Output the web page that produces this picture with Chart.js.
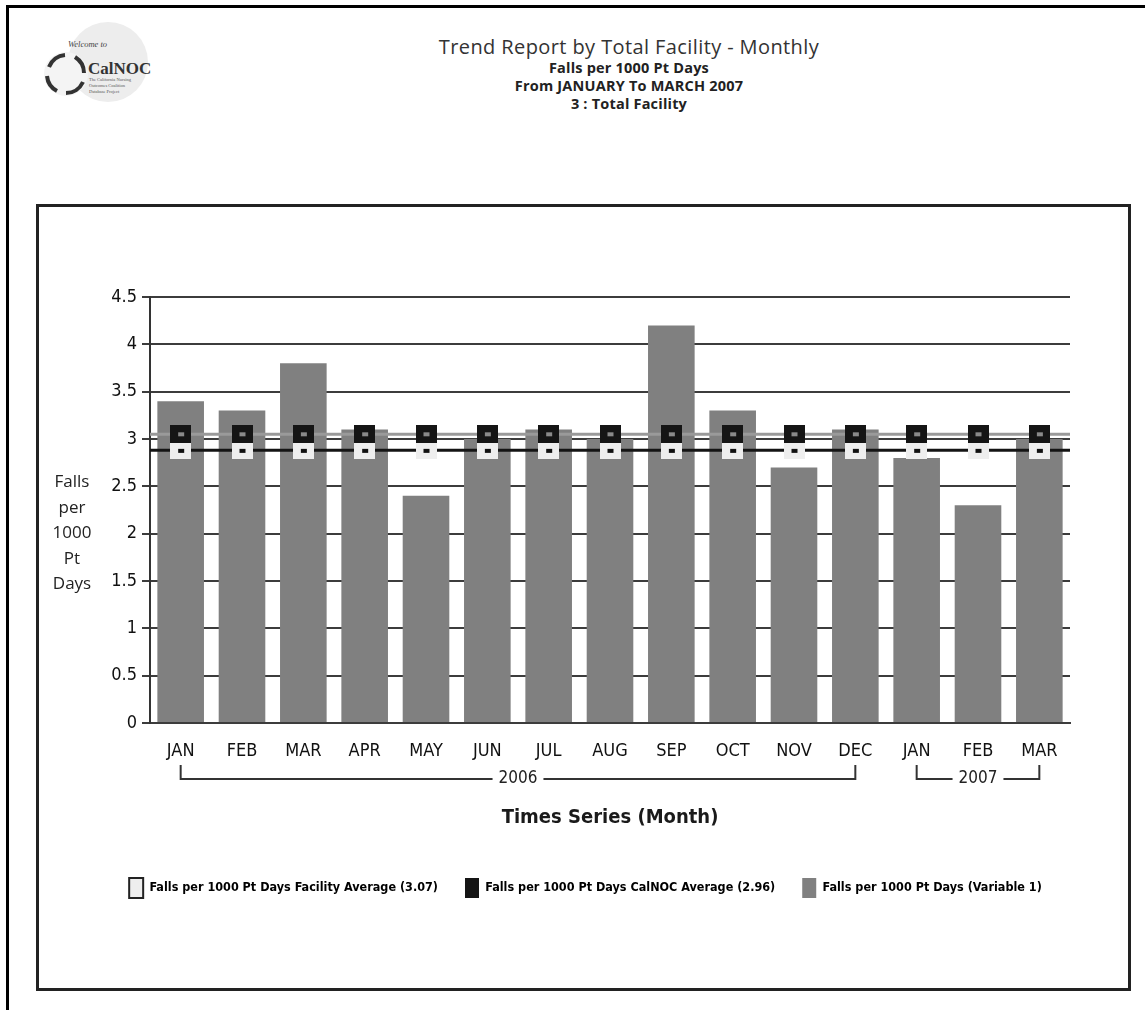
<!DOCTYPE html>
<html><head><meta charset="utf-8">
<script src="https://cdn.jsdelivr.net/npm/chart.js@4.4.0/dist/chart.umd.min.js"></script>
<style>
html,body{margin:0;padding:0;background:#fff;}
body{width:1145px;height:1010px;position:relative;overflow:hidden;font-family:"Open Sans",sans-serif;color:#222;}
#outer{position:absolute;left:6px;top:5px;width:1200px;height:1100px;border-left:3px solid #000;border-top:3px solid #000;}
#inner{position:absolute;left:36px;top:204px;width:1089px;height:781px;border:3px solid #222;}
#cv{position:absolute;left:39px;top:207px;}
#logo{position:absolute;left:38px;top:22px;}
#hdr{position:absolute;left:379px;top:34px;width:500px;text-align:center;}
#hdr .t1{font-size:20px;line-height:25px;color:#333;letter-spacing:0.4px;}
#hdr .t2{font-size:14.5px;font-weight:bold;line-height:18px;color:#222;letter-spacing:0.2px;}
#ytitle{position:absolute;left:44px;top:468px;width:56px;text-align:center;font-size:17px;line-height:25.5px;color:#222;}
</style></head>
<body>
<div id="outer"></div>
<svg id="logo" width="135" height="80" viewBox="0 0 135 80">
  <circle cx="70" cy="40" r="40" fill="#ededed"/>
  <circle cx="28" cy="52" r="22" fill="#f4f4f4"/>
  <g fill="none" stroke="#333" stroke-width="4">
    <path d="M11 45 A19 19 0 0 1 27 33"/>
    <path d="M37 35 A19 19 0 0 1 46 51"/>
    <path d="M45 60 A19 19 0 0 1 28 71"/>
    <path d="M19 69 A19 19 0 0 1 9 54"/>
  </g>
  <text x="30" y="25" font-family="Liberation Serif,serif" font-style="italic" font-size="8.5" fill="#444">Welcome to</text>
  <text x="50" y="52" font-family="Liberation Serif,serif" font-weight="bold" font-size="17" fill="#333">CalNOC</text>
  <text x="51" y="59" font-family="Liberation Serif,serif" font-size="4.5" fill="#555">The California Nursing</text>
  <text x="51" y="65" font-family="Liberation Serif,serif" font-size="4.5" fill="#555">Outcomes Coalition</text>
  <text x="51" y="71" font-family="Liberation Serif,serif" font-size="4.5" fill="#555">Database Project</text>
</svg>
<div id="hdr">
  <div class="t1">Trend Report by Total Facility - Monthly</div>
  <div class="t2">Falls per 1000 Pt Days</div>
  <div class="t2">From JANUARY To MARCH 2007</div>
  <div class="t2">3 : Total Facility</div>
</div>
<div id="inner"></div>
<canvas id="cv" width="1089" height="781"></canvas>
<div id="ytitle">Falls<br>per<br>1000<br>Pt<br>Days</div>
<script>
// ---- data ----
const months = ['JAN','FEB','MAR','APR','MAY','JUN','JUL','AUG','SEP','OCT','NOV','DEC','JAN','FEB','MAR'];
const fallsRate = [3.4, 3.3, 3.8, 3.1, 2.4, 3.0, 3.1, 3.0, 4.2, 3.3, 2.7, 3.1, 2.8, 2.3, 3.0];
const facilityAvg = [2.88, 2.88, 2.88, 2.88, 2.88, 2.88, 2.88, 2.88, 2.88, 2.88, 2.88, 2.88, 2.88, 2.88, 2.88];
const calnocAvg = [3.05, 3.05, 3.05, 3.05, 3.05, 3.05, 3.05, 3.05, 3.05, 3.05, 3.05, 3.05, 3.05, 3.05, 3.05];
const yMin = 0, yMax = 4.5, yStep = 0.5;
const yearGroups = [
  {label: '2006', from: 0, to: 11},
  {label: '2007', from: 12, to: 14}
];
const legendTexts = [
  'Falls per 1000 Pt Days Facility Average (3.07)',
  'Falls per 1000 Pt Days CalNOC Average (2.96)',
  'Falls per 1000 Pt Days (Variable 1)'
];
const xTitle = 'Times Series (Month)';

// ---- styles ----
const NARROW = '"Liberation Sans Narrow","DejaVu Sans Condensed",sans-serif';
function makeMarker(w, h, bg, inner) {
  const c = document.createElement('canvas');
  c.width = w; c.height = h;
  const g = c.getContext('2d');
  g.fillStyle = bg; g.fillRect(0, 0, w, h);
  g.fillStyle = inner; g.fillRect(Math.round(w / 2 - 3), Math.round(h / 2 - 2), 6, 4);
  return c;
}
const whiteMarker = makeMarker(21, 17, '#eeeeee', '#111111');
const blackMarker = makeMarker(21, 18, '#151515', '#8a8a8a');

const avgLines = {
  id: 'avgLines',
  afterDatasetDraw(chart, args) {
    if (args.index !== 0) return;
    const {ctx, chartArea, scales} = chart;
    chart.data.datasets.forEach(ds => {
      if (!ds.avgLineColor) return;
      const y = scales.y.getPixelForValue(ds.data[0]);
      ctx.save();
      ctx.strokeStyle = ds.avgLineColor;
      ctx.lineWidth = 3;
      ctx.beginPath();
      ctx.moveTo(chartArea.left, y);
      ctx.lineTo(chartArea.right, y);
      ctx.stroke();
      ctx.restore();
    });
  }
};

const yearBrackets = {
  id: 'yearBrackets',
  afterDraw(chart) {
    const {ctx, chartArea, scales} = chart;
    const yLine = chartArea.bottom + 56;
    ctx.save();
    ctx.strokeStyle = '#333';
    ctx.lineWidth = 2;
    ctx.fillStyle = '#222';
    ctx.font = '17px ' + NARROW;
    ctx.textAlign = 'center';
    ctx.textBaseline = 'middle';
    yearGroups.forEach(g => {
      const x1 = scales.x.getPixelForValue(g.from);
      const x2 = scales.x.getPixelForValue(g.to);
      const xm = (x1 + x2) / 2;
      const tw = ctx.measureText(g.label).width / 2 + 6;
      ctx.beginPath();
      ctx.moveTo(x1, yLine - 14); ctx.lineTo(x1, yLine); ctx.lineTo(xm - tw, yLine);
      ctx.moveTo(xm + tw, yLine); ctx.lineTo(x2, yLine); ctx.lineTo(x2, yLine - 14);
      ctx.stroke();
      ctx.fillText(g.label, xm, yLine);
    });
    ctx.restore();
  }
};

new Chart(document.getElementById('cv'), {
  data: {
    labels: months,
    datasets: [
      {type: 'bar', label: legendTexts[2], data: fallsRate, backgroundColor: '#808080',
       barPercentage: 0.76, categoryPercentage: 1.0, order: 3},
      {type: 'line', label: legendTexts[0], data: facilityAvg, showLine: false,
       pointStyle: whiteMarker, avgLineColor: '#141414', order: 2},
      {type: 'line', label: legendTexts[1], data: calnocAvg, showLine: false,
       pointStyle: blackMarker, avgLineColor: '#9a9a9a', order: 1}
    ]
  },
  options: {
    responsive: false,
    animation: false,
    events: [],
    layout: {padding: {top: 90, right: 58, left: 62, bottom: 80}},
    scales: {
      x: {
        grid: {display: false},
        border: {display: true, color: '#3c3c3c', width: 2},
        ticks: {color: '#111', font: {family: NARROW, size: 18}, padding: 10, maxRotation: 0, autoSkip: false},
        title: {display: true, text: xTitle, color: '#1a1a1a', font: {family: NARROW, size: 20, weight: 'bold'},
                padding: {top: 0, bottom: 21}},
        afterFit(s) { s.height = 128; }
      },
      y: {
        min: yMin, max: yMax,
        ticks: {stepSize: yStep, color: '#111', font: {family: NARROW, size: 18}, padding: 5,
                callback: v => String(v)},
        grid: {color: '#3c3c3c', lineWidth: 2, tickLength: 8, drawTicks: true},
        border: {display: true, color: '#333', width: 2},
        afterFit(s) { s.width = 49; }
      }
    },
    plugins: {
      tooltip: {enabled: false},
      legend: {
        position: 'bottom',
        labels: {
          padding: 27,
          boxWidth: 14,
          boxHeight: 20,
          color: '#222',
          font: {family: NARROW, size: 12.5, weight: 'bold'},
          generateLabels() {
            return [
              {text: legendTexts[0], fillStyle: '#eeeeee', strokeStyle: '#222', lineWidth: 2, hidden: false, datasetIndex: 1},
              {text: legendTexts[1], fillStyle: '#151515', strokeStyle: '#151515', lineWidth: 0, hidden: false, datasetIndex: 2},
              {text: legendTexts[2], fillStyle: '#808080', strokeStyle: '#808080', lineWidth: 0, hidden: false, datasetIndex: 0}
            ];
          }
        }
      }
    }
  },
  plugins: [avgLines, yearBrackets]
});
</script>
</body></html>
